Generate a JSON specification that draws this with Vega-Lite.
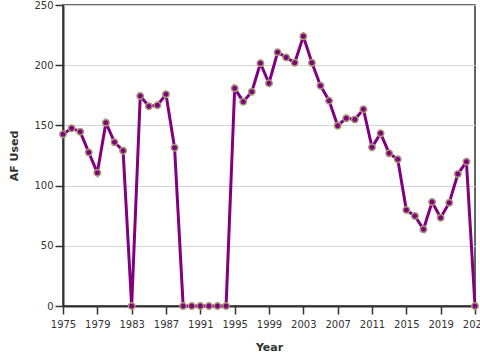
{
  "$schema": "https://vega.github.io/schema/vega-lite/v6.json",
  "autosize": "none",
  "width": 412,
  "height": 301,
  "padding": {"left": 63, "top": 5, "right": 5, "bottom": 54},
  "background": "white",
  "config": {
    "view": {"stroke": "#333333", "strokeWidth": 1.5},
    "font": "DejaVu Sans",
    "axis": {
      "labelFont": "DejaVu Sans",
      "labelFontSize": 10,
      "labelColor": "#333333",
      "titleFont": "DejaVu Sans",
      "titleFontSize": 11,
      "titleFontWeight": "bold",
      "titleColor": "#333333",
      "domainColor": "#333333",
      "domainWidth": 2,
      "tickColor": "#333333",
      "tickWidth": 1.5,
      "tickSize": 8,
      "gridColor": "#d4d4d4"
    }
  },
  "data": {
    "values": [
      {"Year": 1975, "AF": 142.6},
      {"Year": 1976, "AF": 147.6},
      {"Year": 1977, "AF": 144.8},
      {"Year": 1978, "AF": 127.6},
      {"Year": 1979, "AF": 110.7},
      {"Year": 1980, "AF": 152.3},
      {"Year": 1981, "AF": 136},
      {"Year": 1982, "AF": 129},
      {"Year": 1983, "AF": 0},
      {"Year": 1984, "AF": 174.4},
      {"Year": 1985, "AF": 166},
      {"Year": 1986, "AF": 166.7},
      {"Year": 1987, "AF": 175.8},
      {"Year": 1988, "AF": 131.5},
      {"Year": 1989, "AF": 0},
      {"Year": 1990, "AF": 0},
      {"Year": 1991, "AF": 0},
      {"Year": 1992, "AF": 0},
      {"Year": 1993, "AF": 0},
      {"Year": 1994, "AF": 0},
      {"Year": 1995, "AF": 180.8},
      {"Year": 1996, "AF": 169.7},
      {"Year": 1997, "AF": 178},
      {"Year": 1998, "AF": 201.6},
      {"Year": 1999, "AF": 185},
      {"Year": 2000, "AF": 210.7},
      {"Year": 2001, "AF": 206.5},
      {"Year": 2002, "AF": 202},
      {"Year": 2003, "AF": 224},
      {"Year": 2004, "AF": 202},
      {"Year": 2005, "AF": 183},
      {"Year": 2006, "AF": 170.5},
      {"Year": 2007, "AF": 149.8},
      {"Year": 2008, "AF": 156},
      {"Year": 2009, "AF": 155},
      {"Year": 2010, "AF": 163.4},
      {"Year": 2011, "AF": 131.8},
      {"Year": 2012, "AF": 143.4},
      {"Year": 2013, "AF": 126.8},
      {"Year": 2014, "AF": 121.8},
      {"Year": 2015, "AF": 79.7},
      {"Year": 2016, "AF": 74.8},
      {"Year": 2017, "AF": 63.7},
      {"Year": 2018, "AF": 86.4},
      {"Year": 2019, "AF": 73.3},
      {"Year": 2020, "AF": 85.8},
      {"Year": 2021, "AF": 109.6},
      {"Year": 2022, "AF": 119.9},
      {"Year": 2023, "AF": 0}
    ]
  },
  "encoding": {
    "x": {
      "field": "Year",
      "type": "quantitative",
      "scale": {"domain": [1975, 2023], "nice": false, "zero": false},
      "axis": {
        "title": "Year",
        "values": [1975, 1979, 1983, 1987, 1991, 1995, 1999, 2003, 2007, 2011, 2015, 2019, 2023],
        "format": "d",
        "grid": false,
        "labelPadding": 5,
        "titlePadding": 12,
        "labelOverlap": false,
        "labelFlush": false
      }
    },
    "y": {
      "field": "AF",
      "type": "quantitative",
      "scale": {"domain": [0, 250], "nice": false},
      "axis": {
        "title": "AF Used",
        "values": [0, 50, 100, 150, 200, 250],
        "grid": true,
        "labelPadding": 2,
        "titlePadding": 14
      }
    }
  },
  "layer": [
    {
      "mark": {"type": "line", "color": "#800080", "strokeWidth": 3, "clip": false}
    },
    {
      "mark": {"type": "point", "filled": true, "fill": "#800080", "stroke": "#a89a72", "strokeWidth": 1.5, "opacity": 1, "size": 42, "clip": false}
    }
  ]
}
